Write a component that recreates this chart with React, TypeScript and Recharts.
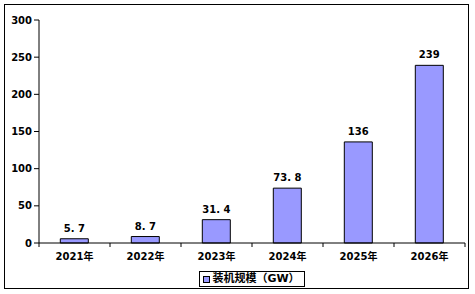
import { BarChart, Bar, XAxis, YAxis, Legend, LabelList } from "recharts";

const YEARS = ["2021年", "2022年", "2023年", "2024年", "2025年", "2026年"];
const CAPACITY = [5.7, 8.7, 31.4, 73.8, 136, 239];
const Y_TICKS = [0, 50, 100, 150, 200, 250, 300];
const SERIES_NAME = "装机规模（GW）";

const data = YEARS.map((year, i) => ({ year, value: CAPACITY[i] }));

const FONT = "'DejaVu Sans', 'Noto Sans CJK SC', sans-serif";
const W = 475;
const H = 294;
const LEFT = 39;
const RIGHT = 10;
const BAND = (W - LEFT - RIGHT) / YEARS.length;

function XTick(props: any) {
  const { x, y, payload, index } = props;
  const axisY = y - 10;
  const left = x - BAND / 2;
  const right = x + BAND / 2;
  return (
    <g>
      <line x1={left} y1={axisY} x2={left} y2={axisY + 4} stroke="#000" />
      {index === YEARS.length - 1 && (
        <line x1={right} y1={axisY} x2={right} y2={axisY + 4} stroke="#000" />
      )}
      <text
        x={x}
        y={y}
        dy="0.71em"
        textAnchor="middle"
        fontSize={10}
        fontWeight="bold"
        fontFamily={FONT}
        fill="#000"
      >
        {payload.value}
      </text>
    </g>
  );
}

function LegendBox() {
  return (
    <div style={{ width: "100%", height: 16, textAlign: "center", lineHeight: 0 }}>
      <div
        style={{
          display: "inline-flex",
          alignItems: "center",
          boxSizing: "border-box",
          border: "1px solid #000",
          height: 16,
          padding: "0 4px 0 3px",
          fontFamily: FONT,
          fontSize: 11,
          fontWeight: "bold",
          lineHeight: "14px",
          color: "#000",
          background: "#fff",
        }}
      >
        <span
          style={{
            display: "inline-block",
            width: 5,
            height: 5,
            border: "1px solid #000",
            background: "#9999FF",
            marginRight: 2,
          }}
        />
        {SERIES_NAME}
      </div>
    </div>
  );
}

export default function App() {
  return (
    <div style={{ position: "absolute", left: 0, top: 0, width: W, height: H, background: "#fff" }}>
      <div
        style={{
          position: "absolute",
          left: 4,
          top: 4,
          width: 465,
          height: 285,
          border: "1.5px solid #000",
          boxSizing: "border-box",
        }}
      />
      <BarChart
        width={W}
        height={H}
        data={data}
        margin={{ top: 20, right: RIGHT, left: 0, bottom: 7 }}
        barCategoryGap="30%"
      >
        <XAxis
          dataKey="year"
          axisLine={{ stroke: "#000" }}
          tickLine={false}
          tickSize={4}
          tickMargin={6}
          height={28}
          tick={<XTick />}
          interval={0}
        />
        <YAxis
          width={LEFT}
          domain={[0, 300]}
          ticks={Y_TICKS}
          axisLine={{ stroke: "#000" }}
          tickLine={{ stroke: "#000" }}
          tickSize={5}
          tickMargin={2}
          tick={{ fill: "#000", fontSize: 10, fontWeight: "bold", fontFamily: FONT }}
        />
        <Legend
          verticalAlign="bottom"
          align="center"
          wrapperStyle={{ height: 16, left: LEFT, width: W - LEFT - RIGHT }}
          content={() => <LegendBox />}
        />
        <Bar
          dataKey="value"
          name={SERIES_NAME}
          fill="#9999FF"
          stroke="#000"
          strokeWidth={1}
          isAnimationActive={false}
        >
          <LabelList
            dataKey="value"
            position="top"
            offset={7}
            formatter={(v: any) => String(v).replace(".", ".\u00a0")}
            style={{ fill: "#000", fontSize: 10, fontWeight: "bold", fontFamily: FONT }}
          />
        </Bar>
      </BarChart>
    </div>
  );
}
